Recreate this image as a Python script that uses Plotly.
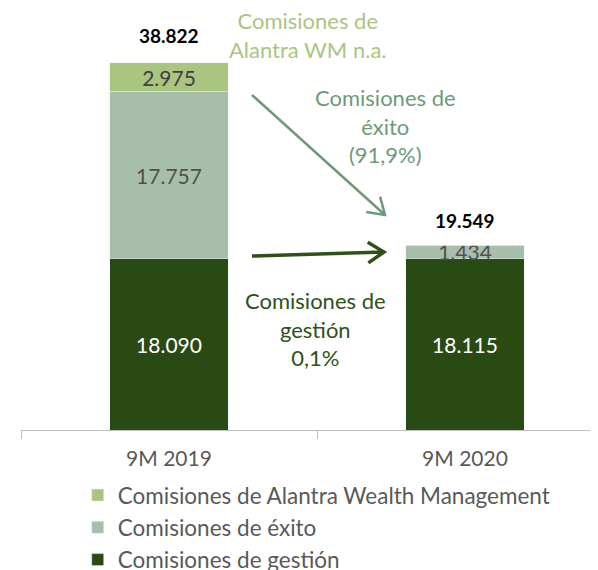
import math
import plotly.graph_objects as go

# ---- data (thousands of euros) ----
categories = ["9M 2019", "9M 2020"]
gestion = [18090, 18115]
exito = [17757, 1434]
alantra_wm = [2975, 0]
series_names = ["Comisiones de gestión", "Comisiones de éxito",
                "Comisiones de Alantra Wealth Management"]
totals = [g + e + a for g, e, a in zip(gestion, exito, alantra_wm)]

C_DARK = "#2A4A13"
C_SAGE = "#A7BEAB"
C_LIGHT = "#AAC57F"
FONT = "Lato"

OFF = 8  # page body margin
W, H = 598, 570
L, R, T, B = 21 - OFF, 0, 10 - OFF, H - (430 - OFF)
PW, PH = W - L - R, H - T - B
YMAX = 44425

def px(x):
    return (x - OFF - L) / PW

def py(y):
    return (H - B - (y - OFF)) / PH

fig = go.Figure()

def fmt(v):
    return f"{v:,}".replace(",", ".")

fig.add_bar(x=categories, y=gestion, name=series_names[0], marker_color=C_DARK,
            text=[fmt(v) for v in gestion], textposition="inside",
            insidetextanchor="middle", constraintext="none", textangle=0,
            textfont=dict(color="white", size=21, family=FONT),
            legendgroup="g1", hoverinfo="skip")
fig.add_bar(x=categories, y=exito, name=series_names[1], marker_color=C_SAGE,
            text=[fmt(v) for v in exito], textposition="inside",
            insidetextanchor="middle", constraintext="none", textangle=0,
            textfont=dict(color="#505050", size=21, family=FONT),
            legendgroup="g2", hoverinfo="skip")
fig.add_bar(x=categories, y=alantra_wm, name=series_names[2], marker_color=C_LIGHT,
            text=[fmt(v) if v else "" for v in alantra_wm], textposition="inside",
            insidetextanchor="middle", constraintext="none", textangle=0,
            textfont=dict(color="#404040", size=21, family=FONT),
            legendgroup="g3", hoverinfo="skip")

for c, t, ys in zip(categories, totals, [14, 11]):
    fig.add_annotation(x=c, y=t, text=f"<b>{fmt(t)}</b>", showarrow=False,
                       yanchor="bottom", yshift=ys,
                       font=dict(size=19, color="black", family=FONT))

callouts = [
    ("Comisiones de<br>Alantra WM n.a.", 308, 35, C_LIGHT),
    ("Comisiones de<br>éxito<br>(91,9%)", 385, 126, "#6E9A78"),
    ("Comisiones de<br>gestión<br>0,1%", 315, 329, "#2D5217"),
]
for txt, x, y, col in callouts:
    fig.add_annotation(xref="paper", yref="paper", x=px(x), y=py(y), text=txt,
                       showarrow=False, xanchor="center", yanchor="middle",
                       font=dict(size=22, color=col, family=FONT))

def arrow(x0, y0, x1, y1, col, w, arm=19, ang=33):
    dx, dy = x1 - x0, y1 - y0
    n = math.hypot(dx, dy)
    ux, uy = dx / n, dy / n
    pts = []
    for s in (1, -1):
        a = math.radians(ang) * s
        rx = -(ux * math.cos(a) - uy * math.sin(a))
        ry = -(ux * math.sin(a) + uy * math.cos(a))
        pts.append((x1 + rx * arm, y1 + ry * arm))
    path = (f"M {px(x0)},{py(y0)} L {px(x1)},{py(y1)} "
            f"M {px(pts[0][0])},{py(pts[0][1])} L {px(x1)},{py(y1)} "
            f"L {px(pts[1][0])},{py(pts[1][1])}")
    fig.add_shape(type="path", xref="paper", yref="paper", path=path,
                  line=dict(color=col, width=w))

arrow(252, 95, 385, 215, "#6E9A78", 2.5)
arrow(252, 256, 384, 252, "#2D5217", 3.5)

fig.update_layout(
    width=W, height=H, barmode="stack", bargap=0.6,
    margin=dict(l=L, r=R, t=T, b=B, pad=0, autoexpand=False),
    plot_bgcolor="white", paper_bgcolor="white",
    separators=",.",
    font=dict(family=FONT, color="#595959", size=21),
    showlegend=True,
    legend=dict(xref="container", yref="container", x=0.1166, y=0.1825,
                xanchor="left", yanchor="top", traceorder="reversed",
                tracegroupgap=6, font=dict(size=22.5, color="#595959", family=FONT),
                bgcolor="rgba(0,0,0,0)"),
    xaxis=dict(range=[-0.5, -0.5 + PW / 296], showline=True, linecolor="#BFBFBF",
               linewidth=1, ticks="outside", tickson="boundaries", ticklen=8,
               tickcolor="#BFBFBF", showgrid=False, ticklabelstandoff=10,
               tickangle=0, automargin=False,
               tickfont=dict(size=21, color="#595959", family=FONT)),
    yaxis=dict(range=[0, YMAX], visible=False, showgrid=False, automargin=False),
)

fig.write_html("out.html")
